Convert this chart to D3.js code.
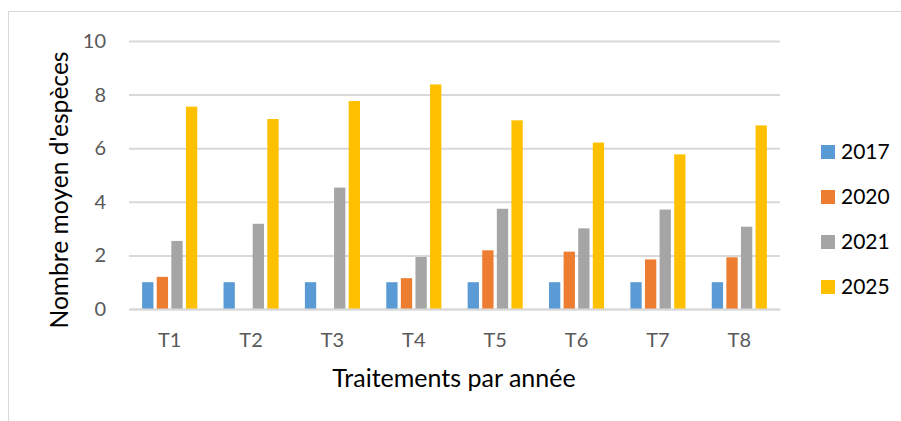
<!DOCTYPE html>
<html><head><meta charset="utf-8">
<script src="https://cdn.jsdelivr.net/npm/d3@7"></script>
<style>body{margin:0;background:#fff}svg{display:block}text{font-family:Lato,"Open Sans",sans-serif}</style>
</head><body><svg id="c" width="901" height="421"></svg>
<script>
const categories = ["T1","T2","T3","T4","T5","T6","T7","T8"];
const seriesNames = ["2017","2020","2021","2025"];
const v2017 = [1,1,1,1,1,1,1,1];
const v2020 = [1.2,0,0,1.15,2.19,2.14,1.85,1.93];
const v2021 = [2.54,3.18,4.53,1.94,3.74,3.01,3.71,3.07];
const v2025 = [7.55,7.09,7.76,8.38,7.04,6.21,5.77,6.85];
const yTicks = [0,2,4,6,8,10];
const colors = ["#5B9BD5","#ED7D31","#A5A5A5","#FFC000"];
const values = [v2017,v2020,v2021,v2025];

(function(){
const svg = d3.select("#c");
svg.append("rect").attr("x",8.5).attr("y",11.5).attr("width",900).attr("height",420)
  .attr("fill","#fff").attr("stroke","#D9D9D9").attr("stroke-width",1);

const pL=129,pR=780,pT=41,pB=309;
const x0 = d3.scaleBand().domain(categories).range([pL,pR]).padding(0);
const groupW = 55.1;
const x1 = d3.scaleBand().domain(seriesNames)
  .range([(x0.bandwidth()-groupW)/2,(x0.bandwidth()+groupW)/2]).paddingInner(0.226).paddingOuter(0);
const y = d3.scaleLinear().domain([0,10]).range([pB,pT]);

const yAxis = d3.axisLeft(y).tickValues(yTicks).tickSize(-(pR-pL)).tickFormat(d3.format("d"));
const gy = svg.append("g").attr("transform",`translate(${pL},0)`).call(yAxis);
gy.select(".domain").remove();
gy.selectAll(".tick line").attr("stroke","#D9D9D9").attr("stroke-width",2);
gy.selectAll(".tick text").attr("x",-23).attr("fill","#595959").style("font-size","20px");

const groups = svg.append("g").selectAll("g").data(categories).join("g")
  .attr("transform",d=>`translate(${x0(d)},0)`);
groups.selectAll("rect").data((c,i)=>seriesNames.map((s,j)=>({s,j,v:values[j][i]})))
  .join("rect")
  .attr("x",d=>x1(d.s)).attr("width",x1.bandwidth())
  .attr("y",d=>y(d.v)).attr("height",d=>y(0)-y(d.v))
  .attr("fill",d=>colors[d.j]);

const xAxis = d3.axisBottom(x0).tickSize(0);
const gx = svg.append("g").attr("transform",`translate(0,${pB})`).call(xAxis);
gx.select(".domain").attr("stroke","#D9D9D9").attr("stroke-width",2);
gx.selectAll(".tick text").attr("dy",0).attr("y",38).attr("fill","#595959").style("font-size","20px");

svg.append("text").attr("x",454).attr("y",387).attr("text-anchor","middle")
  .attr("fill","#000").style("font-size","25px").text("Traitements par année");
svg.append("text").attr("transform","translate(68,190) rotate(-90)").attr("text-anchor","middle")
  .attr("fill","#000").style("font-size","24.6px").text("Nombre moyen d'espèces");

const lg = svg.append("g").selectAll("g").data(seriesNames).join("g")
  .attr("transform",(d,i)=>`translate(821,${152+i*45})`);
lg.append("rect").attr("x",0).attr("y",-7).attr("width",14).attr("height",14).attr("fill",(d,i)=>colors[i]);
lg.append("text").attr("x",20).attr("y",0).attr("dy","0.35em").attr("fill","#000").style("font-size","21px").text(d=>d);
})();
</script></body></html>
